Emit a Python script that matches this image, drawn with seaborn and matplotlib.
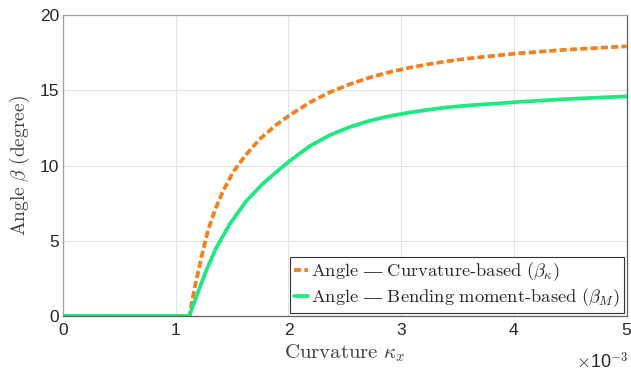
import matplotlib
matplotlib.use("Agg")
import matplotlib.pyplot as plt
import seaborn as sns
import pandas as pd

# Curvature (x 1e-3) and angle values
x_kappa = [0.0, 1.12, 1.168, 1.227, 1.286, 1.345, 1.419, 1.507, 1.61, 1.743, 1.89,
           2.01, 2.19, 2.36, 2.54, 2.72, 2.89, 3.07, 3.25, 3.42, 3.60, 4.02, 4.46, 5.00]
beta_kappa = [0.0, 0.0, 1.9, 3.9, 5.7, 7.0, 8.3, 9.55, 10.6, 11.75, 12.7,
              13.35, 14.2, 14.85, 15.4, 15.85, 16.2, 16.5, 16.75, 16.95, 17.12, 17.45, 17.7, 17.93]

x_moment = [0.0, 1.12, 1.183, 1.272, 1.36, 1.478, 1.626, 1.773, 1.92,
            2.01, 2.19, 2.36, 2.54, 2.72, 2.89, 3.07, 3.25, 3.42, 3.60, 4.02, 4.46, 5.00]
beta_moment = [0.0, 0.0, 1.3, 3.05, 4.55, 6.1, 7.65, 8.8, 9.75,
               10.3, 11.3, 12.0, 12.55, 12.98, 13.28, 13.52, 13.72, 13.88, 14.0, 14.22, 14.42, 14.6]

labels = [r'$\mathrm{Angle\ —\ Curvature\text{-}based\ }(\beta_\kappa)$',
          r'$\mathrm{Angle\ —\ Bending\ moment\text{-}based\ }(\beta_M)$']
xticks = [0, 1, 2, 3, 4, 5]
yticks = [0, 5, 10, 15, 20]

sns.set_theme(style="whitegrid")
plt.rcParams['font.family'] = ['Liberation Sans', 'DejaVu Sans']
plt.rcParams['mathtext.fontset'] = 'cm'

df_k = pd.DataFrame({'x': x_kappa, 'y': beta_kappa})
df_m = pd.DataFrame({'x': x_moment, 'y': beta_moment})

fig = plt.figure(figsize=(6.31, 3.78), dpi=100)
ax = fig.add_axes([0.100, 0.164, 0.893, 0.796])

sns.lineplot(data=df_k, x='x', y='y', ax=ax, color='#f2801f', linewidth=2.7,
             label=labels[0], estimator=None, sort=False)
sns.lineplot(data=df_m, x='x', y='y', ax=ax, color='#1ee882', linewidth=2.7,
             label=labels[1], estimator=None, sort=False)
for ln in ax.lines:
    ln.set_solid_joinstyle('round')
    ln.set_dash_joinstyle('round')
ax.lines[0].set_dashes([1.9, 0.85])

ax.set_xlim(0, 5)
ax.set_ylim(0, 20)
ax.set_xticks(xticks)
ax.set_yticks(yticks)
ax.set_xticklabels([str(t) for t in xticks])
ax.set_yticklabels([str(t) for t in yticks])
ax.tick_params(axis='both', labelsize=12.5, colors='#262626', direction='in',
               length=3, width=0.6, pad=3)
ax.tick_params(axis='x', pad=5)
ax.grid(True, color='#e3e3e3', linewidth=0.8)
ax.set_facecolor('white')
for side in ['left', 'top']:
    ax.spines[side].set_color('#a0a0a0')
for side in ['bottom', 'right']:
    ax.spines[side].set_color('#606060')
for s in ax.spines.values():
    s.set_linewidth(0.9)
    s.set_visible(True)

ax.set_xlabel(r'$\mathrm{Curvature}\ \kappa_x$', fontsize=15, color='#404040', labelpad=3)
ax.set_ylabel(r'$\mathrm{Angle}\ \beta\ \mathrm{(degree)}$', fontsize=14, color='#404040', labelpad=5)
ax.text(1.003, -0.12, r'$\times$10$^{-3}$', transform=ax.transAxes, ha='right', va='top',
        fontsize=13, color='#262626')

leg = ax.legend(loc='lower right', bbox_to_anchor=(0.995, 0.01), fontsize=13.3,
                handlelength=0.8, handletextpad=0.15, borderpad=0.2, labelspacing=0.2,
                fancybox=False, frameon=True, borderaxespad=0.0)
leg.get_frame().set_edgecolor('#333333')
leg.get_frame().set_linewidth(0.8)
leg.get_frame().set_alpha(1)

fig.savefig('out.png', dpi=100)
